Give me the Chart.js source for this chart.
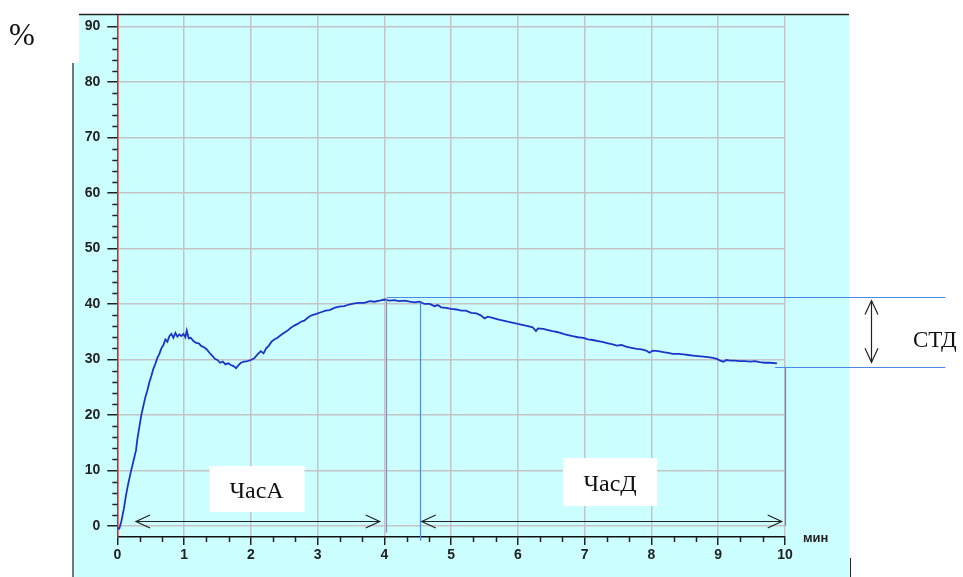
<!DOCTYPE html>
<html lang="ru">
<head>
<meta charset="UTF-8">
<title>Chart</title>
<script src="https://cdn.jsdelivr.net/npm/chart.js"></script>
<style>
  html, body { margin: 0; padding: 0; background: #fff; }
  canvas { display: block; }
</style>
</head>
<body>
<canvas id="chart" width="963" height="577"></canvas>
<script>
// time, min
const times = [0.00, 0.03, 0.06, 0.10, 0.13, 0.16, 0.20, 0.24, 0.28, 0.30, 0.33, 0.36, 0.39, 0.42, 0.45, 0.48,
  0.51, 0.54, 0.57, 0.60, 0.63, 0.66, 0.69, 0.72, 0.75, 0.78, 0.81, 0.84, 0.87, 0.90, 0.93, 0.96, 0.99, 1.02,
  1.04, 1.07, 1.10, 1.14, 1.18, 1.22, 1.26, 1.30, 1.34, 1.38, 1.42, 1.46, 1.50, 1.54, 1.58, 1.62, 1.66, 1.70,
  1.74, 1.78, 1.81, 1.85, 1.90, 1.95, 2.00, 2.05, 2.10, 2.15, 2.19, 2.23, 2.27, 2.31, 2.35, 2.40, 2.45, 2.50,
  2.55, 2.60, 2.65, 2.70, 2.75, 2.80, 2.86, 2.92, 2.98, 3.05, 3.12, 3.18, 3.25, 3.32, 3.40, 3.47, 3.55, 3.62,
  3.70, 3.78, 3.85, 3.93, 4.00, 4.08, 4.15, 4.22, 4.30, 4.38, 4.45, 4.53, 4.60, 4.68, 4.75, 4.80, 4.85, 4.92,
  5.00, 5.08, 5.15, 5.22, 5.30, 5.38, 5.45, 5.50, 5.55, 5.62, 5.70, 5.78, 5.85, 5.93, 6.00, 6.08, 6.15, 6.22,
  6.27, 6.30, 6.38, 6.45, 6.52, 6.60, 6.68, 6.75, 6.82, 6.90, 6.98, 7.05, 7.12, 7.20, 7.28, 7.35, 7.42, 7.48,
  7.55, 7.62, 7.70, 7.78, 7.85, 7.92, 7.97, 8.02, 8.10, 8.18, 8.25, 8.32, 8.40, 8.48, 8.55, 8.62, 8.70, 8.78,
  8.85, 8.92, 8.98, 9.03, 9.08, 9.12, 9.18, 9.25, 9.32, 9.40, 9.48, 9.55, 9.62, 9.70, 9.78, 9.88];
// value, %
const values = [-0.4, -0.5, 0.8, 3.2, 5.5, 7.4, 9.6, 11.6, 13.6, 15.6, 17.8, 20.0, 21.6, 23.2, 24.4, 25.9,
  27.0, 28.3, 29.2, 30.3, 31.0, 32.0, 32.6, 33.6, 33.2, 34.2, 34.6, 33.9, 34.8, 34.1, 34.5, 34.2, 34.6, 34.0,
  35.2, 33.8, 33.9, 33.3, 33.0, 32.9, 32.4, 32.2, 31.8, 31.2, 30.7, 30.1, 29.9, 29.4, 29.6, 29.1, 29.3, 29.0,
  28.8, 28.4, 28.9, 29.4, 29.6, 29.7, 29.9, 30.2, 30.9, 31.5, 31.1, 32.0, 32.5, 33.2, 33.6, 33.9, 34.4, 34.8,
  35.2, 35.7, 36.1, 36.4, 36.8, 37.0, 37.6, 38.0, 38.2, 38.5, 38.8, 38.9, 39.3, 39.5, 39.6, 39.9, 40.1, 40.2,
  40.2, 40.5, 40.4, 40.6, 40.8, 40.6, 40.7, 40.5, 40.6, 40.4, 40.3, 40.4, 40.0, 40.0, 39.6, 39.8, 39.4, 39.3,
  39.1, 39.0, 38.8, 38.8, 38.4, 38.3, 37.9, 37.4, 37.7, 37.5, 37.2, 37.0, 36.8, 36.6, 36.4, 36.2, 36.0, 35.8,
  35.1, 35.6, 35.5, 35.3, 35.1, 34.9, 34.6, 34.4, 34.2, 34.0, 33.9, 33.6, 33.5, 33.3, 33.1, 32.9, 32.7, 32.5,
  32.6, 32.3, 32.1, 31.9, 31.8, 31.6, 31.2, 31.6, 31.5, 31.3, 31.2, 31.0, 31.0, 30.9, 30.8, 30.7, 30.6, 30.5,
  30.4, 30.3, 30.1, 29.8, 29.6, 29.9, 29.8, 29.8, 29.7, 29.7, 29.6, 29.7, 29.5, 29.4, 29.4, 29.3];

const xTicks = [0, 1, 2, 3, 4, 5, 6, 7, 8, 9, 10];
const yTicks = [0, 10, 20, 30, 40, 50, 60, 70, 80, 90];

// markers drawn on top of the curve (minutes / %)
const spanA = [0.28, 3.93];
const spanD = [4.56, 9.95];
const arrowLevel = 0.9;
const peakTime = 4.02, peakLevel = 41.3;
const startD = 4.53, endTime = 10, endLevel = 28.7;
const stdTime = 11.29, stdRight = 12.4;

const tickFont = { family: 'Liberation Sans, Arial, sans-serif', size: 14, weight: 'bold' };
const serif = 'Liberation Serif, "Times New Roman", serif';

function arrowHead(ctx, x, y, dx, dy) {
  // open V head, tip at (x,y), pointing along (dx,dy)
  const len = 14, half = 6.5;
  const px = -dy, py = dx;
  ctx.beginPath();
  ctx.moveTo(x - dx * len + px * half, y - dy * len + py * half);
  ctx.lineTo(x, y);
  ctx.lineTo(x - dx * len - px * half, y - dy * len - py * half);
  ctx.stroke();
}

const backdrop = {
  id: 'backdrop',
  beforeDraw(chart) {
    const ctx = chart.ctx;
    ctx.save();
    ctx.fillStyle = '#fff';
    ctx.fillRect(0, 0, chart.width, chart.height);
    ctx.fillStyle = '#ccffff';
    ctx.fillRect(79, 14, 770, 563);
    ctx.fillRect(74, 63, 6, 514);
    ctx.strokeStyle = '#777';
    ctx.lineWidth = 2;
    ctx.beginPath(); ctx.moveTo(73, 63); ctx.lineTo(73, 577); ctx.stroke();
    ctx.strokeStyle = '#222';
    ctx.lineWidth = 1.5;
    ctx.beginPath(); ctx.moveTo(79, 14.5); ctx.lineTo(849, 14.5); ctx.stroke();
    ctx.lineWidth = 1;
    ctx.beginPath(); ctx.moveTo(850.5, 558); ctx.lineTo(850.5, 577); ctx.stroke();
    ctx.restore();
  },
  afterDraw(chart) {
    const ctx = chart.ctx;
    const xs = chart.scales.x, ys = chart.scales.y;
    const X = v => xs.getPixelForValue(v), Y = v => ys.getPixelForValue(v);
    const area = chart.chartArea;
    ctx.save();

    // minor ticks
    ctx.strokeStyle = '#222';
    ctx.lineWidth = 1.5;
    for (let v = 2; v < 90; v += 2) {
      if (v % 10 === 0) continue;
      const y = Math.round(Y(v)) + 0.5;
      ctx.beginPath(); ctx.moveTo(area.left - 5, y); ctx.lineTo(area.left, y); ctx.stroke();
    }
    for (let i = 1; i < 30; i++) {
      if (i % 3 === 0) continue;
      const x = Math.round(X(i / 3)) + 0.5;
      ctx.beginPath(); ctx.moveTo(x, area.bottom); ctx.lineTo(x, area.bottom + 5); ctx.stroke();
    }

    // marker lines
    ctx.lineWidth = 1.2;
    ctx.strokeStyle = '#7f93bf';
    ctx.beginPath(); ctx.moveTo(Math.round(X(peakTime)) + 0.5, Y(peakLevel) + 1); ctx.lineTo(Math.round(X(peakTime)) + 0.5, Y(-1.2)); ctx.stroke();
    ctx.strokeStyle = '#4a8ae2';
    ctx.beginPath(); ctx.moveTo(Math.round(X(startD)) + 0.5, Y(40.3)); ctx.lineTo(Math.round(X(startD)) + 0.5, Y(-2.7)); ctx.stroke();
    ctx.beginPath(); ctx.moveTo(Math.round(X(endTime)) + 0.5, Y(endLevel)); ctx.lineTo(Math.round(X(endTime)) + 0.5, Y(0)); ctx.stroke();
    ctx.beginPath(); ctx.moveTo(X(4.04), Math.round(Y(peakLevel)) + 0.5); ctx.lineTo(X(stdRight), Math.round(Y(peakLevel)) + 0.5); ctx.stroke();
    ctx.beginPath(); ctx.moveTo(X(9.85), Math.round(Y(endLevel)) + 0.5); ctx.lineTo(X(stdRight), Math.round(Y(endLevel)) + 0.5); ctx.stroke();

    // double arrows
    ctx.strokeStyle = '#222';
    ctx.lineWidth = 1.2;
    const ay = Math.round(Y(arrowLevel)) + 0.5;
    [spanA, spanD].forEach(s => {
      ctx.beginPath(); ctx.moveTo(X(s[0]), ay); ctx.lineTo(X(s[1]), ay); ctx.stroke();
      arrowHead(ctx, X(s[0]), ay, -1, 0);
      arrowHead(ctx, X(s[1]), ay, 1, 0);
    });
    const sx = Math.round(X(stdTime)) + 0.5;
    ctx.beginPath(); ctx.moveTo(sx, Y(40.6)); ctx.lineTo(sx, Y(29.5)); ctx.stroke();
    arrowHead(ctx, sx, Y(40.6), 0, -1);
    arrowHead(ctx, sx, Y(29.5), 0, 1);

    // labelled boxes
    ctx.fillStyle = '#fff';
    ctx.fillRect(X(2.085) - 47, Y(6.65) - 23, 95, 46);
    ctx.fillRect(X(7.38) - 47, Y(7.9) - 24, 94, 48);
    ctx.fillStyle = '#111';
    ctx.font = '24px ' + serif;
    ctx.textAlign = 'center';
    ctx.textBaseline = 'alphabetic';
    ctx.fillText('ЧасА', X(2.085), Y(6.65) + 9);
    ctx.fillText('ЧасД', X(7.38), Y(7.9) + 9);
    ctx.textAlign = 'left';
    ctx.font = '23px ' + serif;
    ctx.fillText('СТД', 913, 347);
    ctx.font = '31px ' + serif;
    ctx.fillText('%', 9, 45);
    ctx.font = 'bold 13px Liberation Sans, Arial, sans-serif';
    ctx.fillStyle = '#222';
    ctx.textBaseline = 'middle';
    ctx.fillText('мин', 803, 538);
    ctx.restore();
  }
};

new Chart(document.getElementById('chart'), {
  type: 'line',
  data: {
    datasets: [{
      data: times.map((t, i) => ({ x: t, y: values[i] })),
      borderColor: '#1b35c8',
      borderWidth: 1.8,
      pointRadius: 0,
      tension: 0
    }]
  },
  options: {
    responsive: false,
    animation: false,
    events: [],
    layout: { padding: { top: 14, right: 178, bottom: 0, left: 0 } },
    plugins: { legend: { display: false }, tooltip: { enabled: false } },
    scales: {
      x: {
        type: 'linear',
        min: 0,
        max: 10,
        afterFit(scale) { scale.height = 40; },
        afterBuildTicks(scale) { scale.ticks = xTicks.map(v => ({ value: v })); },
        grid: { color: '#c4c4c4', lineWidth: 1.5, tickColor: '#222', tickLength: 8 },
        border: { color: '#111', width: 1.5 },
        ticks: { font: tickFont, color: '#222', padding: 2, maxRotation: 0, autoSkip: false }
      },
      y: {
        min: -2,
        max: 92,
        afterFit(scale) { scale.width = 117.3; },
        afterBuildTicks(scale) { scale.ticks = yTicks.map(v => ({ value: v })); },
        grid: { color: '#c4c4c4', lineWidth: 1.5, tickColor: '#222', tickLength: 10 },
        border: { color: '#e02020', width: 1.5 },
        ticks: { font: tickFont, color: '#222', padding: 7, autoSkip: false }
      }
    }
  },
  plugins: [backdrop]
});
</script>
</body>
</html>
